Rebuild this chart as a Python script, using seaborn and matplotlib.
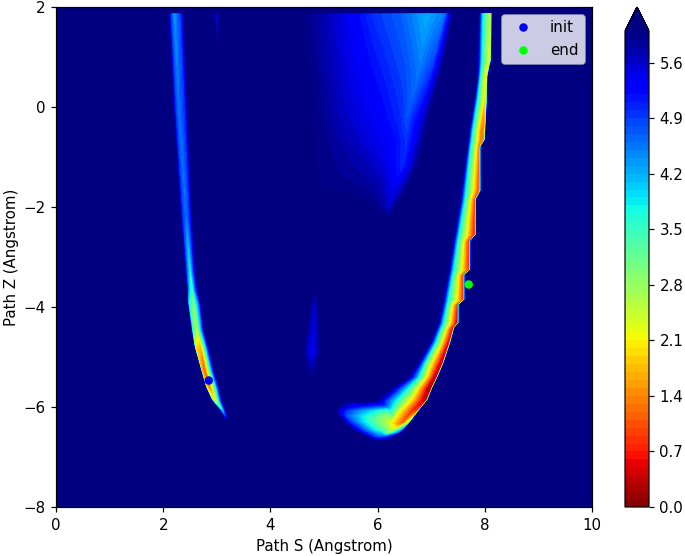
import numpy as np
import pandas as pd
import matplotlib
matplotlib.use('Agg')
import matplotlib.pyplot as plt
import seaborn as sns

# values, row by row: z, then S knots and the energy at each knot
CLEAR = 6.2  # everything above the top level

left_z = [1.90, 1.88, -0.06, -2.20, -3.26, -3.66, -3.92, -4.46, -4.80, -5.26, -5.60, -5.86, -6.06, -6.20, -6.27]
left_s = [[2.09, 2.13, 2.20, 2.33, 2.41], [2.09, 2.13, 2.20, 2.33, 2.41], [2.18, 2.22, 2.29, 2.41, 2.48],
          [2.31, 2.35, 2.43, 2.50, 2.56], [2.39, 2.43, 2.50, 2.57, 2.63], [2.43, 2.46, 2.54, 2.61, 2.67],
          [2.44, 2.47, 2.57, 2.67, 2.72], [2.51, 2.54, 2.63, 2.72, 2.78], [2.57, 2.59, 2.71, 2.80, 2.87],
          [2.69, 2.71, 2.78, 2.89, 2.97], [2.78, 2.80, 2.87, 2.99, 3.06], [2.89, 2.91, 2.99, 3.06, 3.12],
          [3.04, 3.06, 3.12, 3.15, 3.19], [3.12, 3.13, 3.17, 3.20, 3.23], [3.12, 3.13, 3.17, 3.20, 3.23]]
left_e = [[6.2, 6.2, 6.2, 6.2, 6.2], [6.2, 5.0, 4.3, 4.9, 6.2], [6.2, 5.0, 4.5, 5.0, 6.2], [6.2, 5.0, 4.5, 5.0, 6.2],
          [6.2, 4.8, 3.5, 5.0, 6.2], [6.2, 4.5, 3.1, 4.8, 6.2], [6.2, 3.7, 2.8, 4.6, 6.2], [6.2, 3.5, 2.3, 4.3, 6.2],
          [6.2, 2.0, 1.6, 4.0, 6.2], [6.2, 1.8, 0.9, 3.8, 6.2], [6.2, 2.0, 1.1, 3.8, 6.2], [6.2, 2.8, 2.0, 4.4, 6.2],
          [6.2, 4.2, 3.7, 5.0, 6.2], [6.2, 5.3, 4.9, 5.5, 6.2], [6.2, 6.2, 6.2, 6.2, 6.2]]

spike_z = [1.90, 1.88, 1.48, 0.90, 0.86]
spike_s = [[2.91, 2.99, 3.06], [2.91, 2.99, 3.06], [2.97, 3.02, 3.06], [3.00, 3.02, 3.05], [3.00, 3.02, 3.05]]
spike_e = [[6.2, 6.2, 6.2], [6.2, 5.3, 6.2], [6.2, 5.5, 6.2], [6.2, 5.95, 6.2], [6.2, 6.2, 6.2]]

small_z = [-3.46, -4.00, -4.90, -5.40, -5.50]
small_s = [[4.80, 4.83, 4.85, 4.88, 4.90], [4.70, 4.76, 4.83, 4.89, 4.93], [4.59, 4.66, 4.78, 4.89, 4.96],
           [4.68, 4.71, 4.75, 4.79, 4.82], [4.68, 4.71, 4.75, 4.79, 4.82]]
small_e = [[6.2, 6.2, 6.2, 6.2, 6.2], [6.2, 5.8, 5.55, 5.8, 6.2], [6.2, 5.7, 5.3, 5.7, 6.2],
           [6.2, 6.0, 5.9, 6.0, 6.2], [6.2, 6.2, 6.2, 6.2, 6.2]]

blob_z = [1.90, 1.88, 0.80, -0.20, -0.70, -1.20, -1.60, -2.00, -2.30]
blob_s = [[4.61, 5.30, 5.86, 6.42, 6.92, 7.26, 7.44],
          [4.61, 5.30, 5.86, 6.42, 6.92, 7.26, 7.44],
          [4.74, 5.39, 6.04, 6.51, 6.79, 7.03, 7.26],
          [4.83, 5.43, 6.04, 6.42, 6.55, 6.79, 7.01],
          [4.87, 5.49, 5.95, 6.29, 6.55, 6.73, 6.92],
          [4.87, 5.73, 6.14, 6.29, 6.47, 6.64, 6.79],
          [4.93, 5.73, 6.04, 6.19, 6.29, 6.46, 6.60],
          [5.86, 6.01, 6.10, 6.16, 6.21, 6.29, 6.38],
          [6.00, 6.10, 6.15, 6.18, 6.21, 6.25, 6.30]]
blob_e = [[6.2, 6.2, 6.2, 6.2, 6.2, 6.2, 6.2],
          [6.0, 5.5, 5.0, 4.7, 4.2, 4.5, 6.2],
          [6.0, 5.5, 5.1, 4.8, 4.5, 4.9, 6.2],
          [6.0, 5.6, 5.3, 5.0, 4.75, 5.3, 6.2],
          [6.0, 5.7, 5.45, 5.25, 4.95, 5.5, 6.2],
          [6.0, 5.75, 5.5, 5.25, 5.0, 5.6, 6.2],
          [6.0, 5.9, 5.75, 5.5, 5.35, 5.6, 6.2],
          [6.2, 5.95, 5.8, 5.65, 5.55, 5.75, 6.2],
          [6.2, 6.2, 6.2, 6.2, 6.2, 6.2, 6.2]]

right_z = [1.90, 1.88, 0.94, 0.82, 0.60, 0.14, -0.46, -0.66, -0.80, -1.68, -1.86, -2.56, -2.68, -3.26, -3.36,
           -3.86, -3.96, -4.32, -4.42, -4.70, -5.12, -5.40, -5.62, -5.86, -6.06, -6.32, -6.52, -6.62, -6.68]
right_s = [[7.87, 7.95, 8.08, 8.12], [7.87, 7.95, 8.08, 8.12], [7.85, 7.93, 8.06, 8.11], [7.85, 7.92, 8.04, 8.08],
           [7.84, 7.90, 8.00, 8.04], [7.78, 7.85, 7.99, 8.03], [7.69, 7.76, 7.93, 8.00], [7.67, 7.74, 7.92, 7.99],
           [7.65, 7.72, 7.89, 7.91], [7.54, 7.63, 7.87, 7.91], [7.52, 7.61, 7.80, 7.82], [7.41, 7.50, 7.78, 7.82],
           [7.39, 7.48, 7.69, 7.72], [7.31, 7.40, 7.69, 7.72], [7.29, 7.38, 7.59, 7.61], [7.20, 7.30, 7.59, 7.61],
           [7.18, 7.28, 7.48, 7.50], [7.11, 7.21, 7.46, 7.50], [7.07, 7.17, 7.39, 7.42], [6.96, 7.07, 7.31, 7.35],
           [6.73, 6.92, 7.16, 7.22], [6.55, 6.85, 7.05, 7.11], [6.23, 6.66, 6.94, 7.01], [5.95, 6.60, 6.85, 6.92],
           [5.95, 6.42, 6.66, 6.77], [5.95, 6.23, 6.47, 6.59], [5.86, 6.14, 6.23, 6.42], [5.95, 6.02, 6.10, 6.27],
           [5.95, 6.02, 6.10, 6.27]]
right_e = [[6.2, 6.2, 6.2], [3.9, 2.6, 2.6], [3.9, 2.3, 2.3], [3.9, 2.2, 2.3], [3.9, 2.0, 2.1], [3.9, 1.9, 2.0],
           [3.9, 1.2, 1.5], [3.9, 1.2, 1.5], [3.9, 1.2, 1.4], [3.9, 1.0, 1.2], [3.9, 1.0, 1.1], [3.9, 0.8, 1.0],
           [3.9, 0.8, 1.0], [3.9, 0.8, 1.0], [3.9, 0.8, 1.0], [3.9, 0.8, 1.0], [3.9, 0.7, 0.9], [3.9, 0.5, 0.8],
           [3.9, 0.5, 0.8], [3.9, 0.5, 0.7], [3.0, 0.4, 0.6], [2.8, 0.3, 0.5], [3.0, 0.2, 0.4], [2.2, 0.3, 0.5],
           [2.2, 0.7, 1.0], [2.2, 1.0, 3.0], [3.2, 2.9, 5.0], [5.6, 5.4, 5.9], [6.2, 6.2, 6.2]]

tongue_z = [-5.82, -5.88, -5.98, -6.06, -6.18, -6.30, -6.46, -6.60, -6.70]
tongue_s = [[5.26, 5.49, 5.76, 6.23, 6.51], [5.26, 5.49, 5.76, 6.23, 6.51], [5.20, 5.44, 5.74, 6.20, 6.55],
            [5.18, 5.40, 5.72, 6.18, 6.60], [5.22, 5.42, 5.73, 6.20, 6.62], [5.33, 5.47, 5.73, 6.23, 6.64],
            [5.48, 5.62, 5.92, 6.19, 6.48], [5.78, 5.92, 6.04, 6.18, 6.32], [5.90, 5.98, 6.06, 6.16, 6.26]]
tongue_e = [[6.2, 6.2, 6.2, 6.2, 6.2], [6.2, 5.85, 6.0, 5.6, 6.2], [6.2, 5.5, 5.1, 4.6, 6.2], [6.2, 5.0, 4.3, 3.4, 6.2],
            [6.2, 4.7, 3.8, 2.7, 6.2], [6.2, 5.0, 3.9, 2.3, 6.2], [6.2, 5.3, 3.9, 2.8, 6.2], [6.2, 5.0, 4.6, 4.9, 6.2],
            [6.2, 6.2, 6.2, 6.2, 6.2]]

colorbar_ticks = [0.0, 0.7, 1.4, 2.1, 2.8, 3.5, 4.2, 4.9, 5.6]

path_labels = ['init', 'end']
path_s = [2.85, 7.70]
path_z = [-5.47, -3.55]
path_colors = ['#0000ff', '#00ff00']


def add_feature(field, s_grid, z_grid, rows_z, rows_s, rows_e, wall=False):
    rows_z = np.array(rows_z)[::-1]
    rows_s = np.array(rows_s, dtype=float)[::-1]
    rows_e = np.array(rows_e, dtype=float)[::-1]
    for i, z in enumerate(z_grid):
        if z < rows_z[0] or z > rows_z[-1]:
            continue
        xp = [np.interp(z, rows_z, rows_s[:, k]) for k in range(rows_s.shape[1])]
        fp = [np.interp(z, rows_z, rows_e[:, k]) for k in range(rows_e.shape[1])]
        if wall:
            # open on the left, sharp drop back to clear on the right
            xp = xp + [xp[-1] + 0.03]
            fp = [CLEAR] + fp + [CLEAR]
        row = np.interp(s_grid, xp, fp, left=CLEAR, right=CLEAR)
        field[i] = np.minimum(field[i], row)


s_grid = np.linspace(0, 10, 1400)
z_grid = np.linspace(-8, 2, 900)
energy = np.full((len(z_grid), len(s_grid)), CLEAR)

add_feature(energy, s_grid, z_grid, left_z, left_s, left_e)
add_feature(energy, s_grid, z_grid, spike_z, spike_s, spike_e)
add_feature(energy, s_grid, z_grid, small_z, small_s, small_e)
add_feature(energy, s_grid, z_grid, blob_z, blob_s, blob_e)
add_feature(energy, s_grid, z_grid, right_z, right_s, right_e, wall=True)
add_feature(energy, s_grid, z_grid, tongue_z, tongue_s, tongue_e)

points = pd.DataFrame({'label': path_labels, 's': path_s, 'z': path_z})

fig = plt.figure(figsize=(685 / 108, 556 / 108), dpi=108)
ax = fig.add_axes([56 / 685, 1 - 507 / 556, 536 / 685, 500 / 556])
cax = fig.add_axes([625 / 685, 1 - 507 / 556, 24 / 685, 500 / 556])

levels = np.arange(0, 6.05, 0.1)
cs = ax.contourf(s_grid, z_grid, energy, levels=levels, cmap='jet_r', extend='max')

sns.scatterplot(data=points, x='s', y='z', hue='label', palette=path_colors, s=32,
                linewidth=0, ax=ax, zorder=5)

ax.set_xlim(0, 10)
ax.set_ylim(-8, 2)
ax.set_xlabel('Path S (Angstrom)')
ax.set_ylabel('Path Z (Angstrom)', labelpad=2.5)
ax.legend(loc='upper right')

cbar = fig.colorbar(cs, cax=cax, ticks=colorbar_ticks)

fig.savefig('out.png', dpi=108)
